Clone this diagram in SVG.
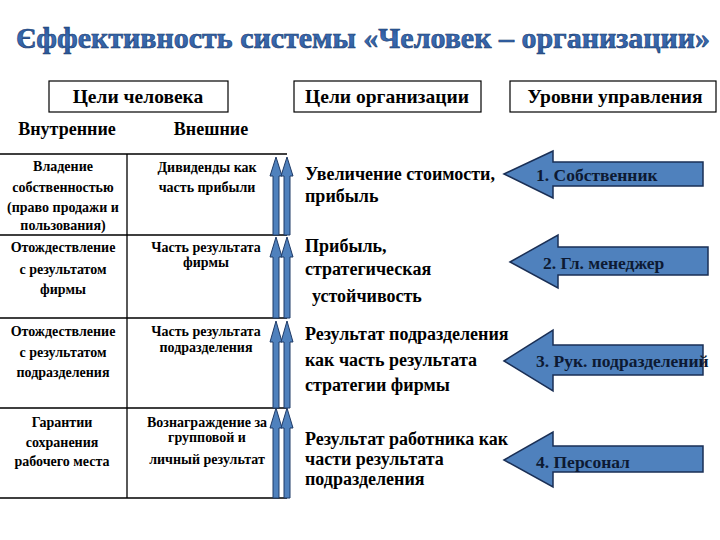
<svg xmlns="http://www.w3.org/2000/svg" width="720" height="540" viewBox="0 0 720 540">
<defs>
<linearGradient id="tg" x1="0" y1="0" x2="0" y2="1">
<stop offset="0" stop-color="#1f4a8a"/>
<stop offset="0.5" stop-color="#3a6cb4"/>
<stop offset="1" stop-color="#2a5697"/>
</linearGradient>
<style>
text{font-family:'Liberation Serif','Tinos','Times New Roman','FreeSerif','Noto Serif','DejaVu Serif',serif;font-weight:bold;fill:#000}
.title{font-size:29px;fill:url(#tg);stroke:#1a3a6e;stroke-width:0.6}
.hdr{font-size:19.5px;text-anchor:middle}
.sub{font-size:18px;text-anchor:middle}
.cell{font-size:14px;text-anchor:middle}
.org{font-size:18px}
.lbl{font-size:17.5px;fill:#0d1a33}
.box{fill:#fff;stroke:#000;stroke-width:1.2}
.grid{stroke:#000;stroke-width:1.3;fill:none}
.va{fill:#4f81bd;stroke:#1f3a66;stroke-width:1}
.ha{fill:#4f81bd;stroke:#1a2f55;stroke-width:1.5}
</style>
</defs>
<rect width="720" height="540" fill="#fff"/>
<text class="title" x="16" y="48" textLength="694" lengthAdjust="spacingAndGlyphs">Єффективность системы «Человек – организации»</text>

<g id="hdr-human">
<rect class="box" x="49" y="81" width="179" height="31"/>
<text class="hdr" x="138" y="103">Цели человека</text>
</g>
<g id="hdr-org">
<rect class="box" x="294" y="81" width="187" height="31"/>
<text class="hdr" x="387" y="103">Цели организации</text>
</g>
<g id="hdr-levels">
<rect class="box" x="510" y="81" width="206" height="31"/>
<text class="hdr" x="615" y="103">Уровни управления</text>
</g>
<g id="sub-inner"><text class="sub" x="67" y="135">Внутренние</text></g>
<g id="sub-outer"><text class="sub" x="211" y="135">Внешние</text></g>

<g id="table">
<path class="grid" d="M0 154H287M0 235H287M0 318H287M0 408H287M0 498H287M127 154V498"/>
</g>

<g id="cell-1-1">
<text class="cell" x="63" y="171">Владение</text>
<text class="cell" x="63" y="192">собственностью</text>
<text class="cell" x="63" y="212">(право продажи и</text>
<text class="cell" x="63" y="230">пользования)</text>
</g>
<g id="cell-1-2">
<text class="cell" x="207" y="172">Дивиденды как</text>
<text class="cell" x="207" y="192">часть прибыли</text>
</g>
<g id="cell-2-1">
<text class="cell" x="63" y="252">Отождествление</text>
<text class="cell" x="63" y="274">с результатом</text>
<text class="cell" x="63" y="294">фирмы</text>
</g>
<g id="cell-2-2">
<text class="cell" x="206" y="252">Часть результата</text>
<text class="cell" x="206" y="267">фирмы</text>
</g>
<g id="cell-3-1">
<text class="cell" x="63" y="336">Отождествление</text>
<text class="cell" x="63" y="357">с результатом</text>
<text class="cell" x="63" y="377">подразделения</text>
</g>
<g id="cell-3-2">
<text class="cell" x="206" y="336">Часть результата</text>
<text class="cell" x="206" y="352">подразделения</text>
</g>
<g id="cell-4-1">
<text class="cell" x="62" y="427">Гарантии</text>
<text class="cell" x="62" y="447">сохранения</text>
<text class="cell" x="62" y="466">рабочего места</text>
</g>
<g id="cell-4-2">
<text class="cell" x="207" y="427">Вознаграждение за</text>
<text class="cell" x="207" y="442">групповой и</text>
<text class="cell" x="207" y="464">личный результат</text>
</g>

<g id="connectors">
<path class="va" d="M276 157L282 176H279V235H273V176H270Z"/>
<path class="va" d="M287 157L293 176H290V235H284V176H281Z"/>
<path class="va" d="M276 237L282 257H279V318H273V257H270Z"/>
<path class="va" d="M287 237L293 257H290V318H284V257H281Z"/>
<path class="va" d="M276 321L282 342H279V408H273V342H270Z"/>
<path class="va" d="M287 321L293 342H290V408H284V342H281Z"/>
<path class="va" d="M276 408L282 428H279V498H273V428H270Z"/>
<path class="va" d="M287 408L293 428H290V498H284V428H281Z"/>
</g>

<g id="org-1">
<text class="org" x="305" y="180">Увеличение стоимости,</text>
<text class="org" x="305" y="202">прибыль</text>
</g>
<g id="org-2">
<text class="org" x="305" y="252">Прибыль,</text>
<text class="org" x="305" y="275">стратегическая</text>
<text class="org" x="312" y="302">устойчивость</text>
</g>
<g id="org-3">
<text class="org" x="305" y="340">Результат подразделения</text>
<text class="org" x="305" y="366">как часть результата</text>
<text class="org" x="305" y="391">стратегии фирмы</text>
</g>
<g id="org-4">
<text class="org" x="305" y="445">Результат работника как</text>
<text class="org" x="305" y="465">части результата</text>
<text class="org" x="305" y="485">подразделения</text>
</g>

<g id="level-1">
<path class="ha" d="M504 174L553 151V162H703V186H553V198Z"/>
<text class="lbl" x="536" y="181">1. Собственник</text>
</g>
<g id="level-2">
<path class="ha" d="M510 262L558 235V247H708V275H558V288Z"/>
<text class="lbl" x="543" y="269">2. Гл. менеджер</text>
</g>
<g id="level-3">
<path class="ha" d="M504 361L553 330V345H703V375H553V391Z"/>
<text class="lbl" x="536" y="367">3. Рук. подразделений</text>
</g>
<g id="level-4">
<path class="ha" d="M504 460L553 432V446H703V472H553V487Z"/>
<text class="lbl" x="536" y="468">4. Персонал</text>
</g>
</svg>
